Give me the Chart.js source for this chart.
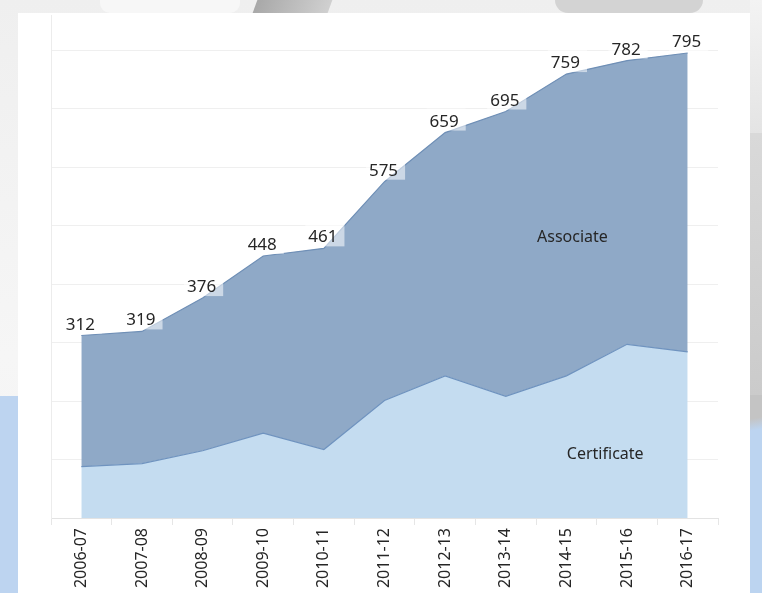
<!DOCTYPE html>
<html>
<head>
<meta charset="utf-8">
<script src="https://cdn.jsdelivr.net/npm/chart.js@4/dist/chart.umd.min.js"></script>
<style>
  html, body { margin: 0; padding: 0; }
  body {
    width: 762px; height: 593px; overflow: hidden; position: relative;
    background: linear-gradient(180deg, #efefef 0%, #f6f6f6 60%, #f2f2f2 100%);
  }
  .bg { position: absolute; }
  #panel { position: absolute; left: 18px; top: 13px; width: 732px; height: 600px; background: #ffffff; }
</style>
</head>
<body>
<!-- decoracion del fondo -->
<div class="bg" style="left:0;top:396px;width:18px;height:197px;background:#bdd4f0"></div>
<div class="bg" style="left:750px;top:0;width:12px;height:133px;background:linear-gradient(180deg,#f3f3f3,#e4e4e4)"></div>
<div class="bg" style="left:750px;top:133px;width:12px;height:262px;background:linear-gradient(180deg,#d9d9d9,#cbcbcb)"></div>
<div class="bg" style="left:750px;top:395px;width:12px;height:198px;background:linear-gradient(170deg,#c4c4c4 0%,#c4c4c4 12%,#bcd4f0 18%,#bcd4f0 100%)"></div>
<div class="bg" style="left:255px;top:0;width:75px;height:13px;background:linear-gradient(90deg,#a8a8a8,#d0d0d0);transform:skewX(-20deg)"></div>
<div class="bg" style="left:555px;top:0;width:148px;height:13px;background:#d3d3d3;border-radius:0 0 14px 14px"></div>
<div class="bg" style="left:100px;top:0;width:140px;height:13px;background:#f7f7f7;border-radius:0 0 10px 10px"></div>
<div id="panel"><canvas id="grafica" width="732" height="590"></canvas></div>
<script>
// Datos
const cursos = ['2006-07', '2007-08', '2008-09', '2009-10', '2010-11', '2011-12',
                '2012-13', '2013-14', '2014-15', '2015-16', '2016-17'];
const totales = [312, 319, 376, 448, 461, 575, 659, 695, 759, 782, 795];
const certificate = [88, 93, 115, 145, 117, 201, 243, 208, 243, 297, 284];
const associate = totales.map((t, i) => t - certificate[i]);

// Etiquetas de las areas: [texto, indice de categoria, valor]
const etiquetaAssociate = ['Associate', 8.1, 479];
const etiquetaCertificate = ['Certificate', 8.64, 108];

const fuente = '"Noto Sans", "Open Sans", sans-serif';

// Interpolar posicion x entre categorias
function xDeIndice(xs, idx) {
    const i = Math.floor(idx);
    const a = xs.getPixelForValue(i);
    const b = xs.getPixelForValue(i + 1);
    return a + (idx - i) * (b - a);
}

const etiquetas = {
    id: 'etiquetas',
    afterDatasetsDraw(chart) {
        const ctx = chart.ctx;
        const xs = chart.scales.x;
        const ys = chart.scales.y;
        ctx.save();
        ctx.font = '17px ' + fuente;
        ctx.textAlign = 'center';
        ctx.textBaseline = 'alphabetic';
        for (let i = 0; i < totales.length; i++) {
            const x = xs.getPixelForValue(i);
            const y = ys.getPixelForValue(totales[i]);
            const texto = String(totales[i]);
            const w = ctx.measureText(texto).width;
            // caja semitransparente
            ctx.fillStyle = 'rgba(255,255,255,0.55)';
            ctx.fillRect(x - w / 2 - 4, y - 24, w + 10, 22);
            ctx.fillStyle = '#262626';
            ctx.fillText(texto, x - 1, y - 6);
        }
        ctx.font = '16px ' + fuente;
        ctx.textBaseline = 'middle';
        for (const e of [etiquetaAssociate, etiquetaCertificate]) {
            ctx.fillText(e[0], xDeIndice(xs, e[1]), ys.getPixelForValue(e[2]));
        }
        ctx.restore();
    }
};

new Chart(document.getElementById('grafica'), {
    type: 'line',
    data: {
        labels: cursos,
        datasets: [{
            label: 'Certificate',
            data: certificate,
            backgroundColor: '#c4dcf0',
            borderColor: '#6f93bf',
            borderWidth: 1.2,
            pointRadius: 0,
            tension: 0,
            fill: 'origin'
        }, {
            label: 'Associate',
            data: associate,
            backgroundColor: '#8fa9c7',
            borderColor: '#6f8fb6',
            borderWidth: 1.2,
            pointRadius: 0,
            tension: 0,
            fill: '-1'
        }]
    },
    options: {
        responsive: false,
        animation: false,
        layout: { padding: { left: 33, right: 32, top: 2, bottom: 0 } },
        plugins: {
            legend: { display: false },
            tooltip: { enabled: false }
        },
        scales: {
            x: {
                offset: true,
                afterFit: s => { s.height = 85; },
                grid: {
                    offset: true,
                    drawOnChartArea: false,
                    drawTicks: true,
                    tickLength: 7,
                    color: '#e6e6e6'
                },
                border: { display: true, color: '#e3e3e3' },
                ticks: {
                    autoSkip: false,
                    minRotation: 90,
                    maxRotation: 90,
                    padding: 3,
                    color: '#262626',
                    font: { family: fuente, size: 16 }
                }
            },
            y: {
                stacked: true,
                min: 0,
                max: 860,
                afterFit: s => { s.width = 0; },
                ticks: { display: false, stepSize: 100 },
                grid: {
                    drawTicks: false,
                    color: c => (c.tick && c.tick.value % 100 === 0) ? '#efefef' : 'rgba(0,0,0,0)'
                },
                border: { display: true, color: '#ececec' }
            }
        }
    },
    plugins: [etiquetas]
});
</script>
</body>
</html>
